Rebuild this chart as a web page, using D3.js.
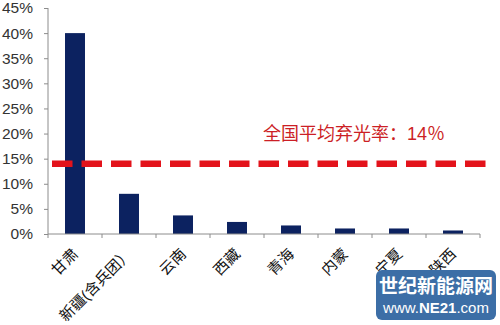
<!DOCTYPE html>
<html><head><meta charset="utf-8">
<script src="https://cdn.jsdelivr.net/npm/d3@7"></script>
<style>body{margin:0;background:#fff}svg{display:block}</style>
</head><body>
<svg id="c" width="500" height="325"></svg>
<script>
const categories = ["甘肃","新疆(含兵团）","云南","西藏","青海","内蒙","宁夏","陕西"];
const values = [0.40, 0.08, 0.037, 0.024, 0.017, 0.011, 0.011, 0.007];
const yTicks = [0,0.05,0.10,0.15,0.20,0.25,0.30,0.35,0.40,0.45];
const average = 0.14;
const averageLabel = "全国平均弃光率：14％";

const svg = d3.select("#c");
const font = "'Liberation Sans', Arial, 'Noto Sans CJK SC', sans-serif";
const x = d3.scaleBand().domain(categories).range([48,480]).paddingInner(0.63).paddingOuter(0.315);
const y = d3.scaleLinear().domain([0,0.45]).range([234,8]);

// y axis
const ya = svg.append("g").attr("transform","translate(48,0)")
  .call(d3.axisLeft(y).tickValues(yTicks).tickFormat(d3.format(".0%")).tickSize(4).tickPadding(11));
ya.select(".domain").attr("stroke","#8c8c8c").attr("d","M0,8V234");
ya.selectAll(".tick line").attr("stroke","#8c8c8c");
ya.selectAll("text").attr("font-family",font).attr("font-size",15.5).attr("fill","#333");

// bars
svg.append("g").selectAll("rect").data(values).join("rect")
  .attr("x",(d,i)=>x(categories[i])).attr("width",x.bandwidth())
  .attr("y",d=>y(d)).attr("height",d=>y(0)-y(d)).attr("fill","#0c2260");

// x axis
const xa = svg.append("g").attr("transform","translate(0,234)");
xa.append("line").attr("x1",48).attr("x2",480).attr("stroke","#8c8c8c");
const step = x.step();
xa.selectAll("line.t").data(d3.range(categories.length+1)).join("line").attr("class","t")
  .attr("x1",i=>48+i*step).attr("x2",i=>48+i*step).attr("y1",0).attr("y2",4).attr("stroke","#8c8c8c");
xa.selectAll("text").data(categories).join("text")
  .attr("transform",d=>`translate(${x(d)+x.bandwidth()/2+4},21) rotate(-45)`)
  .attr("text-anchor","end").attr("font-family",font).attr("font-size",15).attr("fill","#111")
  .text(d=>d);

// average line
svg.append("line").attr("x1",52).attr("x2",494).attr("y1",y(average)).attr("y2",y(average))
  .attr("stroke","#e3131b").attr("stroke-width",6.5).attr("stroke-dasharray","20.5,9");
svg.append("text").attr("x",263).attr("y",140).attr("font-family",font).attr("font-size",18)
  .attr("fill","#cc1f26").text(averageLabel);

// watermark
const wm = svg.append("g");
wm.append("rect").attr("x",376).attr("y",270).attr("width",120).attr("height",50).attr("rx",6).attr("fill","#3c6ea6");
wm.append("text").attr("x",436).attr("y",293).attr("text-anchor","middle").attr("font-family",font)
  .attr("font-size",19).attr("font-weight","bold").attr("fill","#fff").text("世纪新能源网");
const t2 = wm.append("text").attr("x",436).attr("y",313).attr("text-anchor","middle").attr("font-family",font)
  .attr("font-size",15).attr("fill","#fff");
t2.append("tspan").text("www.");
t2.append("tspan").attr("font-weight","bold").text("NE21");
t2.append("tspan").text(".com");
</script>
</body></html>
